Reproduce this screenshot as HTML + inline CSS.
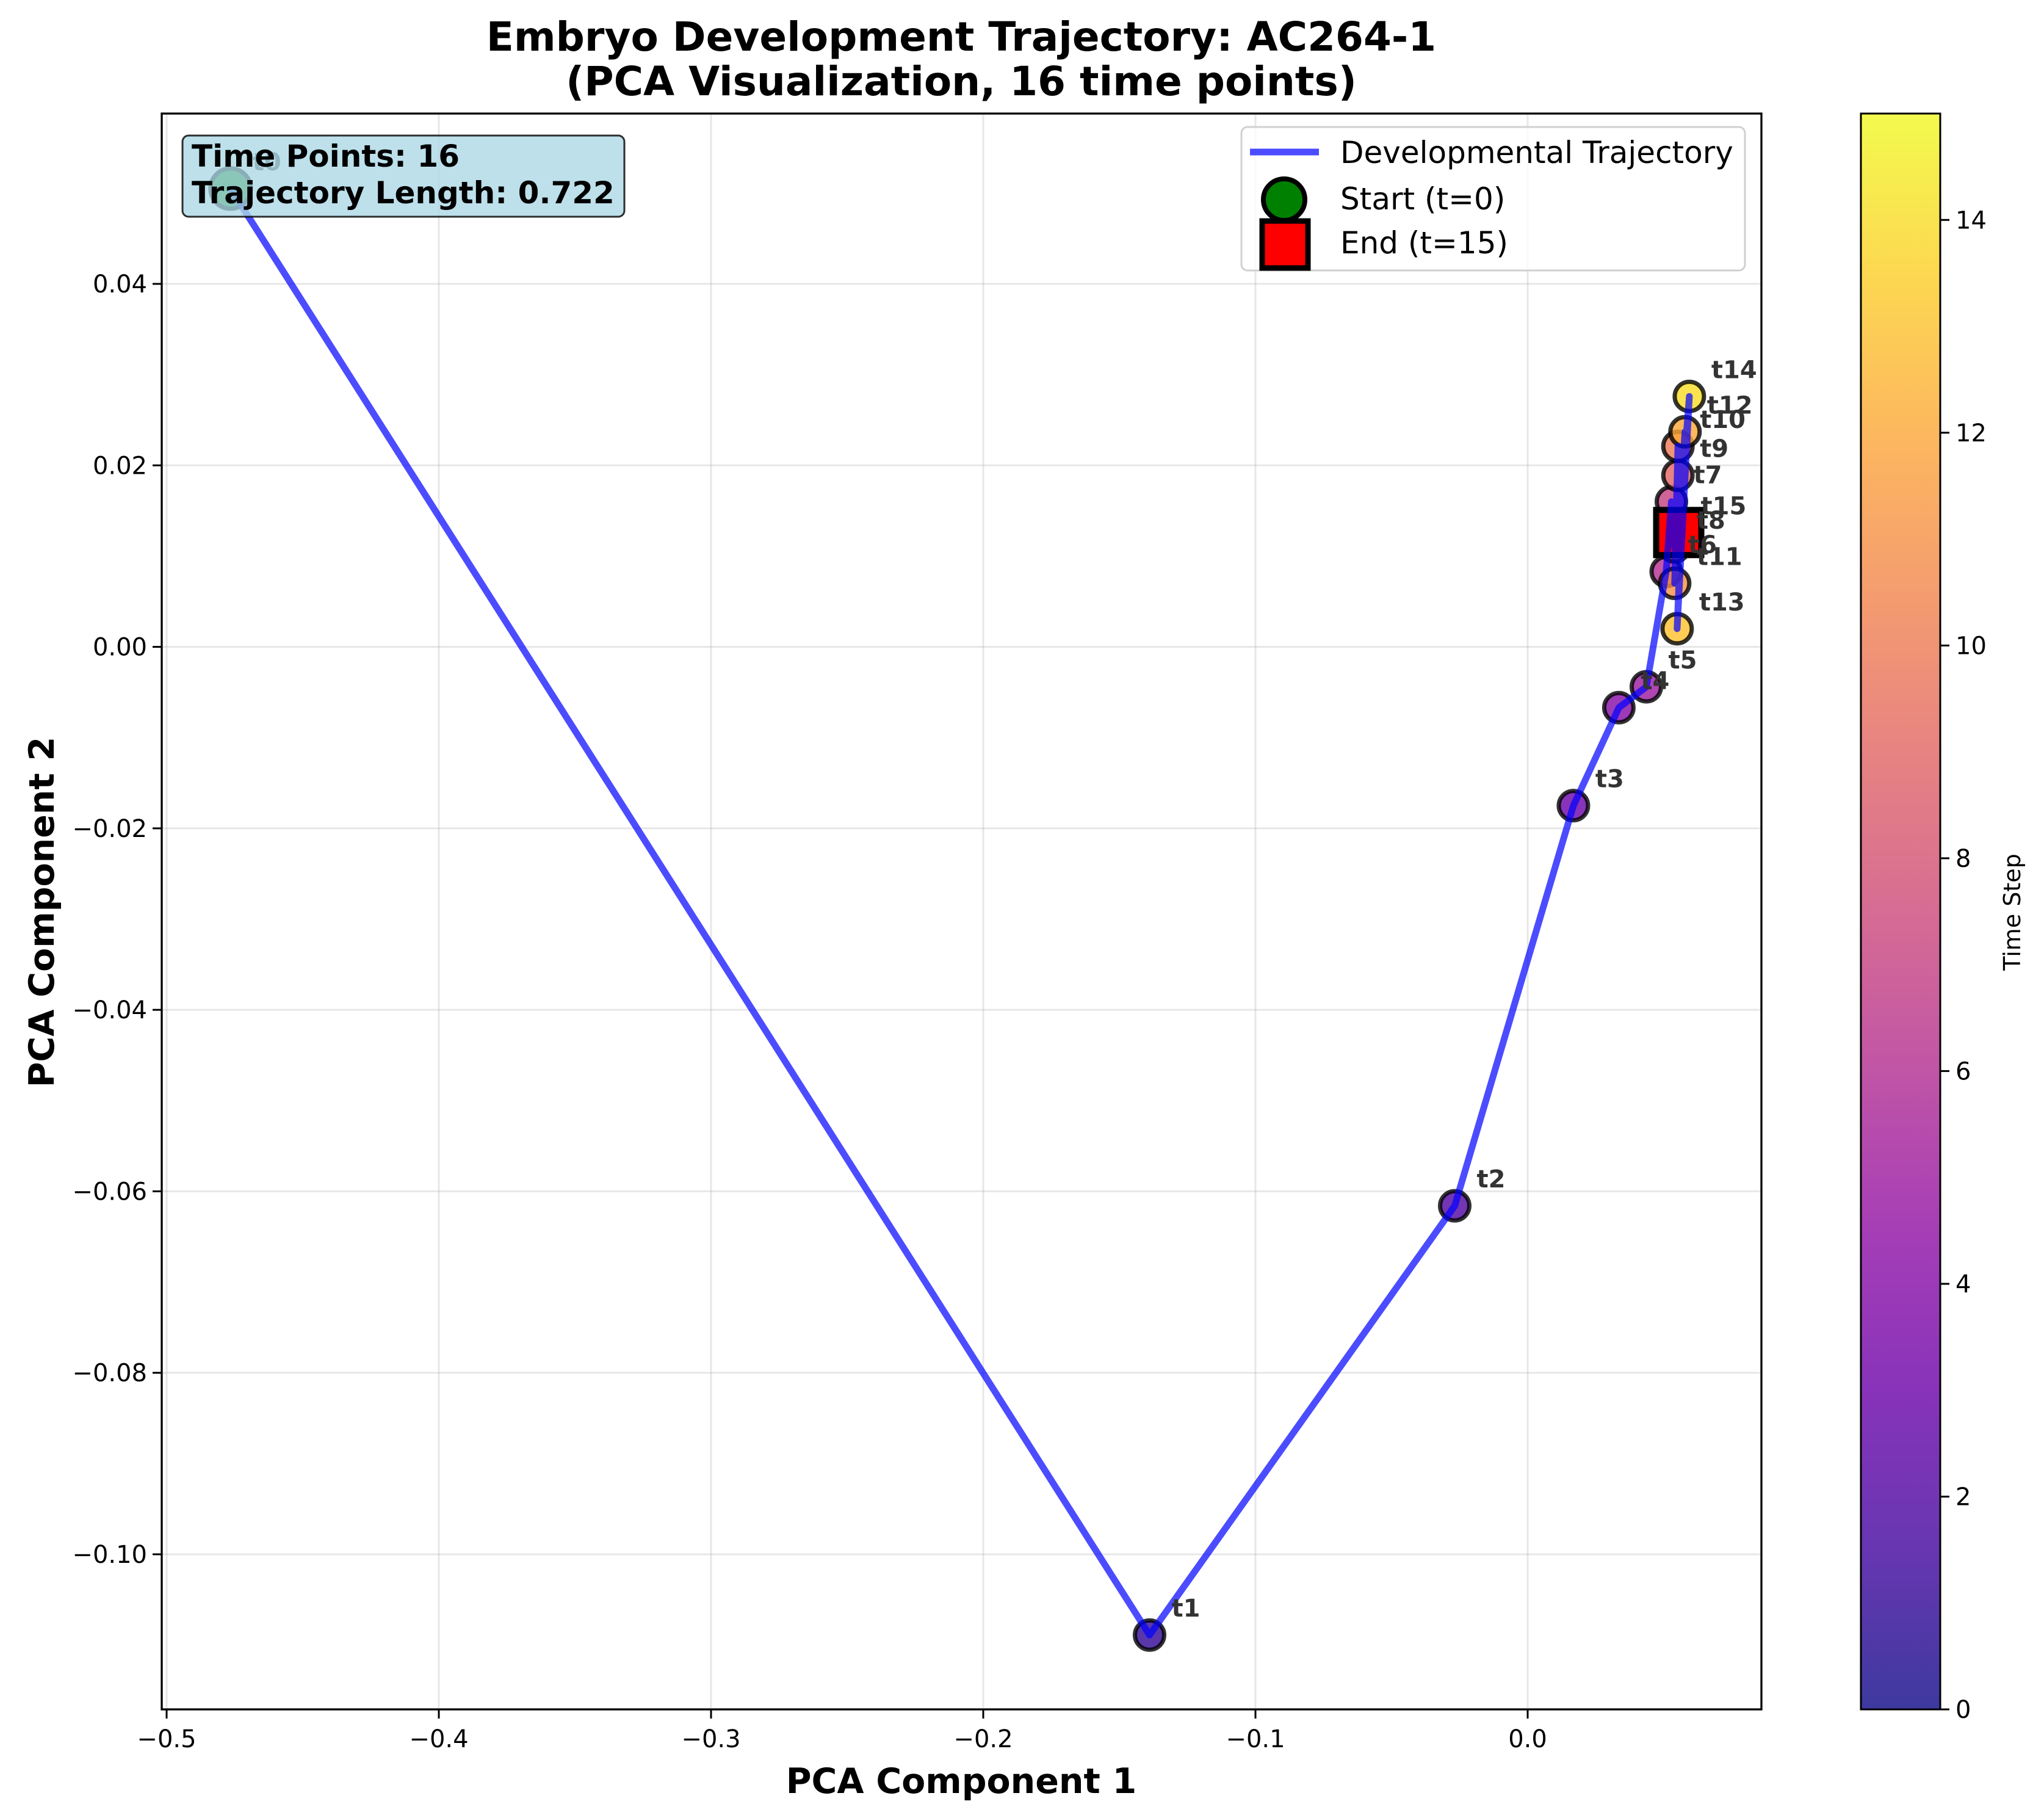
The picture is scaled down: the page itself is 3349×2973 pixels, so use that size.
<!DOCTYPE html>
<html><head><meta charset="utf-8"><style>
html,body{margin:0;padding:0;background:#fff;}
svg{display:block;font-family:"DejaVu Sans","Liberation Sans",sans-serif;}
</style></head><body>
<svg id="chart" width="3349" height="2973" viewBox="0 0 3349 2973" xmlns="http://www.w3.org/2000/svg">
<rect width="3349" height="2973" fill="#fff"/>
<g id="grid"></g>
<g id="marks"></g>
<g id="axes"></g>
<text x="1575" y="83" font-size="66" font-weight="bold" text-anchor="middle">Embryo Development Trajectory: AC264-1</text>
<text x="1575" y="156" font-size="66" font-weight="bold" text-anchor="middle">(PCA Visualization, 16 time points)</text>
<text x="1575" y="2937" font-size="57" font-weight="bold" text-anchor="middle">PCA Component 1</text>
<text x="0" y="0" font-size="57" font-weight="bold" text-anchor="middle" transform="translate(88,1494) rotate(-90)">PCA Component 2</text>
<g id="info">
<rect x="299" y="222" width="724" height="133" rx="10" fill="#add8e6" fill-opacity="0.8" stroke="#000" stroke-opacity="0.8" stroke-width="3"/>
<text x="314" y="273" font-size="50" font-weight="bold">Time Points: 16</text>
<text x="314" y="333" font-size="50" font-weight="bold">Trajectory Length: 0.722</text>
</g>
<g id="legend">
<rect x="2034" y="208" width="825" height="235" rx="10" fill="#fff" fill-opacity="0.8" stroke="#d0d0d0" stroke-width="3"/>
<line x1="2048" y1="249" x2="2161" y2="249" stroke="#0000ff" stroke-opacity="0.7" stroke-width="11"/>
<text x="2196" y="267" font-size="50">Developmental Trajectory</text>
<circle cx="2104" cy="327" r="34" fill="green" stroke="#000" stroke-width="8"/>
<text x="2196" y="343" font-size="50">Start (t=0)</text>
<rect x="2068" y="362" width="75" height="77" fill="red" stroke="#000" stroke-width="9"/>
<text x="2196" y="415" font-size="50">End (t=15)</text>
</g>
<defs><linearGradient id="plasma" x1="0" y1="1" x2="0" y2="0">
<stop offset="0" stop-color="#0d0887"/><stop offset="0.1" stop-color="#41049d"/><stop offset="0.2" stop-color="#6a00a8"/><stop offset="0.3" stop-color="#8f0da4"/><stop offset="0.4" stop-color="#b12a90"/><stop offset="0.5" stop-color="#cc4778"/><stop offset="0.6" stop-color="#e16462"/><stop offset="0.7" stop-color="#f2844b"/><stop offset="0.8" stop-color="#fca636"/><stop offset="0.9" stop-color="#fcce25"/><stop offset="1" stop-color="#f0f921"/>
</linearGradient></defs>
<g id="cbar">
<rect x="3049" y="186" width="130" height="2614" fill="url(#plasma)" fill-opacity="0.8" stroke="#000" stroke-width="3"/>
</g>
<text x="0" y="0" font-size="38" text-anchor="middle" transform="translate(3310,1494) rotate(-90)">Time Step</text>
</svg>
<script>
const timeSteps = [0,1,2,3,4,5,6,7,8,9,10,11,12,13,14,15];
const pc1 = [-0.4765,-0.1389,-0.0268,0.0168,0.0335,0.0436,0.0509,0.0528,0.0540,0.0552,0.0552,0.0540,0.0578,0.0549,0.0594,0.0555];
const pc2 = [0.0505,-0.1089,-0.0616,-0.0175,-0.0067,-0.0044,0.0083,0.0160,0.0110,0.0189,0.0221,0.0070,0.0237,0.0020,0.0276,0.0126];
const xTicks = [-0.5,-0.4,-0.3,-0.2,-0.1,0.0];
const xTickLabels = ["\u22120.5","\u22120.4","\u22120.3","\u22120.2","\u22120.1","0.0"];
const yTicks = [-0.10,-0.08,-0.06,-0.04,-0.02,0.00,0.02,0.04];
const yTickLabels = ["\u22120.10","\u22120.08","\u22120.06","\u22120.04","\u22120.02","0.00","0.02","0.04"];
const cbarTicks = [0,2,4,6,8,10,12,14];
const cbarMax = 15;

const NS="http://www.w3.org/2000/svg";
const L=265,R=2886,T=186,B=2800;
const X=v=>2503+v*4460;
const Y=v=>465-(v-0.04)*14864;
const CY=v=>B-v/cbarMax*(B-T);
const stops=[[13,8,135],[65,4,157],[106,0,168],[143,13,164],[177,42,144],[204,71,120],[225,100,98],[242,132,75],[252,166,54],[252,206,37],[240,249,33]];
function plasma(t){t=Math.max(0,Math.min(1,t));const f=t*10,i=Math.min(9,Math.floor(f)),r=f-i;const a=stops[i],b=stops[i+1];return `rgb(${a.map((c,k)=>Math.round(c+(b[k]-c)*r)).join(',')})`;}
function mk(tag,attrs,parent,txt){const e=document.createElementNS(NS,tag);for(const k in attrs)e.setAttribute(k,attrs[k]);if(txt!==undefined)e.textContent=txt;parent.appendChild(e);return e;}
const grid=document.getElementById('grid'),axes=document.getElementById('axes'),marks=document.getElementById('marks'),cbar=document.getElementById('cbar');
xTicks.forEach((v,i)=>{
  const g=mk('line',{x1:X(v),x2:X(v),y1:T,y2:B,stroke:'#b0b0b0','stroke-opacity':0.3,'stroke-width':3},grid);
  
  
  const t=mk('line',{x1:X(v),x2:X(v),y1:B,y2:B+15,stroke:'#000','stroke-width':3},axes);
  
  
  const l=mk('text',{x:X(v),y:B+62,'font-size':40,'text-anchor':'middle'},axes,xTickLabels[i]);
  
  
});
yTicks.forEach((v,i)=>{
  const g=mk('line',{x1:L,x2:2886,y1:Y(v),y2:Y(v),stroke:'#b0b0b0','stroke-opacity':0.3,'stroke-width':3},grid);
  
  
  const t=mk('line',{x1:L-15,x2:L,y1:Y(v),y2:Y(v),stroke:'#000','stroke-width':3},axes);
  
  
  const l=mk('text',{x:L-24,y:Y(v)+14,'font-size':40,'text-anchor':'end'},axes,yTickLabels[i]);
  
  
});
const frame=mk('rect',{x:L,y:T,width:2886-L,height:B-T,fill:'none',stroke:'#000','stroke-width':3.3},axes);


timeSteps.forEach((s,i)=>{
  const c=mk('circle',{cx:X(pc1[i]),cy:Y(pc2[i]),r:24,fill:plasma(s/cbarMax),'fill-opacity':0.8,stroke:'#000','stroke-opacity':0.8,'stroke-width':7},marks);
  
  
});
const n=pc1.length-1;
const st=mk('circle',{cx:X(pc1[0]),cy:Y(pc2[0]),r:33,fill:'green',stroke:'#000','stroke-width':7},marks);


const en=mk('rect',{x:X(pc1[n])-37,y:Y(pc2[n])-37,width:74,height:74,fill:'red',stroke:'#000','stroke-width':10},marks);


const pl=mk('polyline',{points:pc1.map((v,i)=>X(v)+','+Y(pc2[i])).join(' '),fill:'none',stroke:'#0000ff','stroke-opacity':0.7,'stroke-width':11,'stroke-linejoin':'round','stroke-linecap':'round'},marks);


timeSteps.forEach((s,i)=>{
  const t=mk('text',{x:X(pc1[i])+36,y:Y(pc2[i])-30,'font-size':40,'font-weight':'bold',fill:'#333'},marks,'t'+s);
  
  
});
cbarTicks.forEach(v=>{
  const t=mk('line',{x1:3179,x2:3194,y1:CY(v),y2:CY(v),stroke:'#000','stroke-width':3},cbar);
  
  
  const l=mk('text',{x:3204,y:CY(v)+14,'font-size':40},cbar,String(v));
  
  
});
</script>
</body></html>
